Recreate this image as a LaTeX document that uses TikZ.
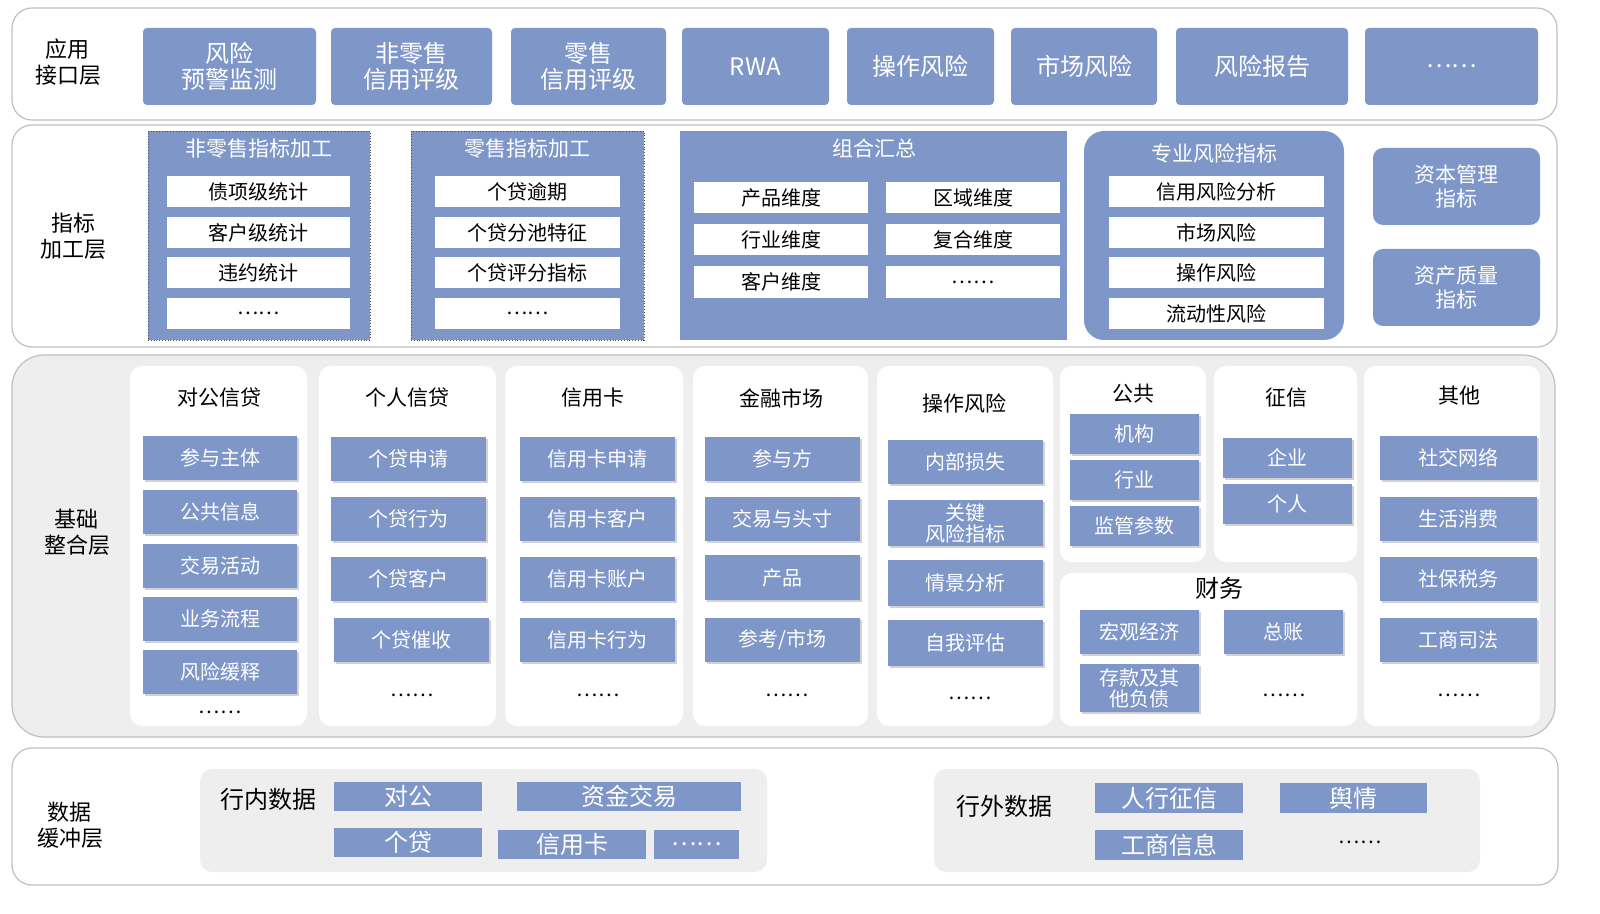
\documentclass[tikz,border=0pt]{standalone}
\usepackage{fontspec}
\setmainfont{Noto Sans CJK SC}
\usetikzlibrary{shadows}
\definecolor{bl}{HTML}{7F97C8}
\definecolor{gbg}{HTML}{EEEEEE}
\tikzset{
 layer/.style={draw=black!25,rounded corners=10pt,line width=0.6pt,inner sep=0},
 bbox/.style={fill=bl,text=white,rounded corners=2pt,inner sep=0,align=center,font=\fontsize{12}{13}\selectfont},
 wbox/.style={fill=white,inner sep=0,align=center,font=\fontsize{10}{11}\selectfont},
 grp/.style={fill=bl,inner sep=0},
 sbox/.style={fill=bl,text=white,inner sep=0,align=center,font=\fontsize{10}{10.5}\selectfont,drop shadow={opacity=0.35,shadow xshift=1.2pt,shadow yshift=-1.2pt}},
 col/.style={fill=white,rounded corners=6pt,inner sep=0},
 lbl/.style={align=center,font=\fontsize{11}{13}\selectfont},
 ttl/.style={font=\fontsize{10.5}{12}\selectfont},
 dbox/.style={fill=bl,text=white,inner sep=0,font=\fontsize{12}{13}\selectfont},
}
\newcommand\BX[7][]{\pgfmathsetmacro\cx{(#3+#5)/2}\pgfmathsetmacro\cy{(#4+#6)/2}%
\pgfmathsetmacro\ww{(#5-#3)*0.5}\pgfmathsetmacro\hh{(#6-#4)*0.5}%
\node[#1,minimum width=\ww pt,minimum height=\hh pt] (#2) at (\cx,\cy) {#7};}
\begin{document}
\begin{tikzpicture}[x=0.5pt,y=-0.5pt]
\useasboundingbox (0,0) rectangle (1600,914);
% row 1
\BX[layer]{L1}{12}{8}{1557}{120}{}
\node[lbl] (l1) at (68,62) {应用\\接口层};
\BX[bbox]{a1}{143}{28}{316}{105}{风险\\预警监测}
\BX[bbox]{a2}{331}{28}{492}{105}{非零售\\信用评级}
\BX[bbox]{a3}{511}{28}{666}{105}{零售\\信用评级}
\BX[bbox]{a4}{682}{28}{829}{105}{RWA}
\BX[bbox]{a5}{847}{28}{994}{105}{操作风险}
\BX[bbox]{a6}{1011}{28}{1157}{105}{市场风险}
\BX[bbox]{a7}{1176}{28}{1348}{105}{风险报告}
\BX[bbox]{a8}{1365}{28}{1538}{105}{……}
% row 2
\BX[layer]{L2}{12}{125}{1557}{347}{}
\node[lbl] (l2) at (73,236) {指标\\加工层};
\BX[grp,draw=black!70,densely dotted]{g1}{148}{131}{370}{340}{}
\node[ttl,text=white] (g1t) at (259,149) {非零售指标加工};
\BX[wbox]{g1a}{167}{176}{350}{207}{债项级统计}
\BX[wbox]{g1b}{167}{217}{350}{248}{客户级统计}
\BX[wbox]{g1c}{167}{257}{350}{288}{违约统计}
\BX[wbox]{g1d}{167}{298}{350}{329}{……}
\BX[grp,draw=black!70,densely dotted]{g2}{411}{131}{644}{340}{}
\node[ttl,text=white] (g2t) at (527,149) {零售指标加工};
\BX[wbox]{g2a}{435}{176}{620}{207}{个贷逾期}
\BX[wbox]{g2b}{435}{217}{620}{248}{个贷分池特征}
\BX[wbox]{g2c}{435}{257}{620}{288}{个贷评分指标}
\BX[wbox]{g2d}{435}{298}{620}{329}{……}
\BX[grp]{g3}{680}{131}{1067}{340}{}
\node[ttl,text=white] (g3t) at (874,148) {组合汇总};
\BX[wbox]{g3a}{694}{182}{868}{213}{产品维度}
\BX[wbox]{g3b}{886}{182}{1060}{213}{区域维度}
\BX[wbox]{g3c}{694}{224}{868}{255}{行业维度}
\BX[wbox]{g3d}{886}{224}{1060}{255}{复合维度}
\BX[wbox]{g3e}{694}{266}{868}{298}{客户维度}
\BX[wbox]{g3f}{886}{266}{1060}{298}{……}
\BX[grp,rounded corners=10pt]{g4}{1084}{131}{1344}{340}{}
\node[ttl,text=white] (g4t) at (1214,153) {专业风险指标};
\BX[wbox]{g4a}{1109}{176}{1324}{207}{信用风险分析}
\BX[wbox]{g4b}{1109}{217}{1324}{248}{市场风险}
\BX[wbox]{g4c}{1109}{257}{1324}{288}{操作风险}
\BX[wbox]{g4d}{1109}{298}{1324}{329}{流动性风险}
\BX[bbox,rounded corners=5pt,font=\fontsize{10.5}{12}\selectfont]{g5}{1373}{148}{1540}{225}{资本管理\\指标}
\BX[bbox,rounded corners=5pt,font=\fontsize{10.5}{12}\selectfont]{g6}{1373}{249}{1540}{326}{资产质量\\指标}
% row 3
\BX[layer,fill=gbg,rounded corners=16pt]{L3}{12}{355}{1555}{737}{}
\node[lbl] (l3) at (77,532) {基础\\整合层};
\BX[col]{c1}{130}{366}{307}{726}{}
\BX[col]{c2}{319}{366}{496}{726}{}
\BX[col]{c3}{505}{366}{683}{726}{}
\BX[col]{c4}{693}{366}{868}{726}{}
\BX[col]{c5}{877}{366}{1053}{726}{}
\BX[col]{c6}{1060}{366}{1206}{562}{}
\BX[col]{c7}{1214}{366}{1357}{562}{}
\BX[col]{c8}{1060}{573}{1357}{726}{}
\BX[col]{c9}{1364}{366}{1540}{726}{}
\node[ttl] (t1) at (219,398) {对公信贷};
\node[ttl] (t2) at (407,398) {个人信贷};
\node[ttl] (t3) at (593,398) {信用卡};
\node[ttl] (t4) at (781,398) {金融市场};
\node[ttl] (t5) at (964,403) {操作风险};
\node[ttl] (t6) at (1133,394) {公共};
\node[ttl] (t7) at (1286,398) {征信};
\node[ttl,font=\fontsize{12}{13}\selectfont] (t8) at (1219,588) {财务};
\node[ttl] (t9) at (1459,396) {其他};
\BX[sbox]{d1}{143}{436}{297}{480}{参与主体}
\BX[sbox]{d2}{143}{490}{297}{534}{公共信息}
\BX[sbox]{d3}{143}{544}{297}{588}{交易活动}
\BX[sbox]{d4}{143}{597}{297}{641}{业务流程}
\BX[sbox]{d5}{143}{650}{297}{694}{风险缓释}
\node (d6) at (220,712) {……};
\BX[sbox]{e1}{331}{437}{486}{481}{个贷申请}
\BX[sbox]{e2}{331}{497}{486}{541}{个贷行为}
\BX[sbox]{e3}{331}{557}{486}{601}{个贷客户}
\BX[sbox]{e4}{334}{618}{489}{662}{个贷催收}
\node (e5) at (412,695) {……};
\BX[sbox]{f1}{520}{437}{675}{481}{信用卡申请}
\BX[sbox]{f2}{520}{497}{675}{541}{信用卡客户}
\BX[sbox]{f3}{520}{557}{675}{601}{信用卡账户}
\BX[sbox]{f4}{520}{618}{675}{662}{信用卡行为}
\node (f5) at (598,695) {……};
\BX[sbox]{h1}{705}{437}{860}{481}{参与方}
\BX[sbox]{h2}{705}{497}{860}{541}{交易与头寸}
\BX[sbox]{h3}{705}{555}{860}{600}{产品}
\BX[sbox]{h4}{705}{618}{860}{662}{参考/市场}
\node (h5) at (787,695) {……};
\BX[sbox]{i1}{888}{440}{1043}{484}{内部损失}
\BX[sbox]{i2}{888}{500}{1043}{546}{关键\\风险指标}
\BX[sbox]{i3}{888}{560}{1043}{606}{情景分析}
\BX[sbox]{i4}{888}{620}{1043}{666}{自我评估}
\node (i5) at (970,698) {……};
\BX[sbox]{j1}{1070}{414}{1199}{454}{机构}
\BX[sbox]{j2}{1070}{460}{1199}{500}{行业}
\BX[sbox]{j3}{1070}{506}{1199}{546}{监管参数}
\BX[sbox]{k1}{1223}{438}{1352}{478}{企业}
\BX[sbox]{k2}{1223}{484}{1352}{524}{个人}
\BX[sbox]{m1}{1080}{610}{1199}{654}{宏观经济}
\BX[sbox]{m2}{1224}{610}{1343}{654}{总账}
\BX[sbox]{m3}{1080}{664}{1199}{712}{存款及其\\他负债}
\node (m4) at (1284,695) {……};
\BX[sbox]{n1}{1380}{436}{1537}{480}{社交网络}
\BX[sbox]{n2}{1380}{497}{1537}{541}{生活消费}
\BX[sbox]{n3}{1380}{557}{1537}{601}{社保税务}
\BX[sbox]{n4}{1380}{618}{1537}{662}{工商司法}
\node (n5) at (1459,695) {……};
% row 4
\BX[layer]{L4}{12}{748}{1558}{885}{}
\node[lbl] (l4) at (70,825) {数据\\缓冲层};
\BX[fill=gbg,rounded corners=6pt,inner sep=0]{p1}{200}{769}{767}{872}{}
\node[font=\fontsize{12}{13}\selectfont] (p1t) at (268,799) {行内数据};
\BX[dbox]{q1}{334}{782}{482}{811}{对公}
\BX[dbox]{q2}{517}{782}{741}{811}{资金交易}
\BX[dbox]{q3}{334}{828}{482}{857}{个贷}
\BX[dbox]{q4}{498}{830}{646}{859}{信用卡}
\BX[dbox]{q5}{654}{830}{739}{859}{……}
\BX[fill=gbg,rounded corners=6pt,inner sep=0]{p2}{934}{769}{1480}{872}{}
\node[font=\fontsize{12}{13}\selectfont] (p2t) at (1004,806) {行外数据};
\BX[dbox]{r1}{1095}{783}{1243}{813}{人行征信}
\BX[dbox]{r2}{1280}{783}{1427}{813}{舆情}
\BX[dbox]{r3}{1095}{830}{1243}{860}{工商信息}
\node (r4) at (1360,842) {……};
\end{tikzpicture}
\end{document}
